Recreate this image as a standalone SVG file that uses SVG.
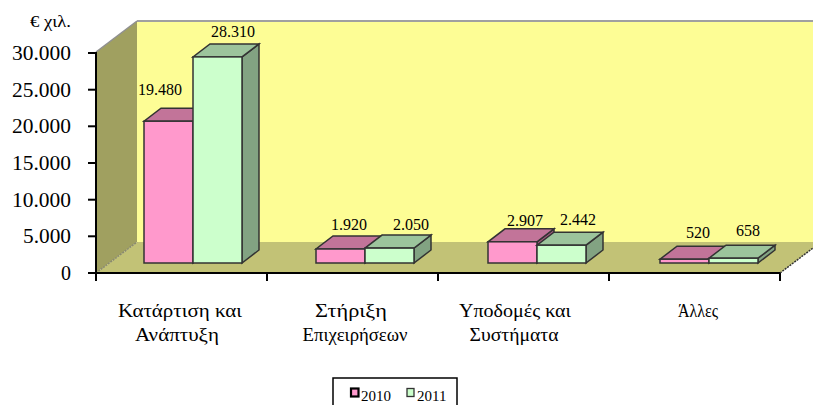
<svg xmlns="http://www.w3.org/2000/svg" width="813" height="405" viewBox="0 0 813 405">
<style>
text{font-family:"Liberation Serif","DejaVu Serif",serif;fill:#000}
.ytl{font-size:20px;text-anchor:end}
.val{font-size:16px;text-anchor:middle}
.cat{font-size:19px;text-anchor:middle}
.leg{font-size:15px}
.pf{fill:#ff99cc;stroke:#333;stroke-width:1.5}
.pt{fill:#c27499;stroke:#333;stroke-width:1.5}
.ps{fill:#a0587c;stroke:#333;stroke-width:1.5}
.gf{fill:#ccffcc;stroke:#333;stroke-width:1.5}
.gt{fill:#9cc49c;stroke:#333;stroke-width:1.5}
.gs{fill:#82a382;stroke:#333;stroke-width:1.5}
.ax{stroke:#000;stroke-width:2;fill:none}
</style>
<rect width="813" height="405" fill="#fff"/>
<g id="plot-area">
<rect x="137" y="21" width="676" height="221" fill="#fdfd95"/>
<line x1="137" y1="21" x2="813" y2="21" stroke="#a0a0a0" stroke-width="2"/>
<polygon points="96,52 137,21 137,242 96,273" fill="#a0a060"/>
<line x1="96" y1="52" x2="137" y2="21" stroke="#909090" stroke-width="1.5"/>
<polygon points="96,273 137,242 813,242 813,248 780,273" fill="#c2c276"/>
<line x1="96" y1="273" x2="137" y2="242" stroke="#8a8a70" stroke-width="1.5" stroke-dasharray="2,1"/>
<line x1="780" y1="273" x2="813" y2="248" stroke="#333" stroke-width="1.5" stroke-dasharray="2,1"/>
</g>
<g id="axes">
<line class="ax" x1="96" y1="52" x2="96" y2="274"/>
<line class="ax" x1="95" y1="273" x2="780" y2="273"/>
<g stroke="#000" stroke-width="2">
<line x1="88" y1="53" x2="96" y2="53"/>
<line x1="88" y1="89.7" x2="96" y2="89.7"/>
<line x1="88" y1="126.3" x2="96" y2="126.3"/>
<line x1="88" y1="163" x2="96" y2="163"/>
<line x1="88" y1="199.7" x2="96" y2="199.7"/>
<line x1="88" y1="236.3" x2="96" y2="236.3"/>
<line x1="88" y1="273" x2="96" y2="273"/>
<line x1="96" y1="273" x2="96" y2="281"/>
<line x1="267" y1="273" x2="267" y2="281"/>
<line x1="438" y1="273" x2="438" y2="281"/>
<line x1="609" y1="273" x2="609" y2="281"/>
<line x1="780" y1="273" x2="780" y2="281"/>
</g>
<text x="30" y="27" style="font-size:16px" textLength="41" lengthAdjust="spacingAndGlyphs">€ χιλ.</text>
<text class="ytl" x="71" y="60" textLength="59" lengthAdjust="spacingAndGlyphs">30.000</text>
<text class="ytl" x="71" y="96.7" textLength="59" lengthAdjust="spacingAndGlyphs">25.000</text>
<text class="ytl" x="71" y="133.3" textLength="59" lengthAdjust="spacingAndGlyphs">20.000</text>
<text class="ytl" x="71" y="170" textLength="59" lengthAdjust="spacingAndGlyphs">15.000</text>
<text class="ytl" x="71" y="206.7" textLength="59" lengthAdjust="spacingAndGlyphs">10.000</text>
<text class="ytl" x="71" y="243.3" textLength="48" lengthAdjust="spacingAndGlyphs">5.000</text>
<text class="ytl" x="71" y="280">0</text>
<text class="cat" x="180" y="317" textLength="124" lengthAdjust="spacingAndGlyphs">Κατάρτιση και</text>
<text class="cat" x="177" y="341" textLength="84" lengthAdjust="spacingAndGlyphs">Ανάπτυξη</text>
<text class="cat" x="351" y="317" textLength="72" lengthAdjust="spacingAndGlyphs">Στήριξη</text>
<text class="cat" x="355" y="341" textLength="105" lengthAdjust="spacingAndGlyphs">Επιχειρήσεων</text>
<text class="cat" x="515" y="317" textLength="112" lengthAdjust="spacingAndGlyphs">Υποδομές και</text>
<text class="cat" x="514" y="341" textLength="89" lengthAdjust="spacingAndGlyphs">Συστήματα</text>
<text class="cat" x="698" y="317" textLength="40" lengthAdjust="spacingAndGlyphs">Άλλες</text>
</g>
<g id="bars-cat1">
<polygon class="ps" points="193,121.2 210,108.2 210,250 193,263"/>
<polygon class="pt" points="144,121.2 193,121.2 210,108.2 161,108.2"/>
<rect class="pf" x="144" y="121.2" width="49" height="141.8"/>
<polygon class="gs" points="242,56.9 259,43.9 259,250 242,263"/>
<polygon class="gt" points="193,56.9 242,56.9 259,43.9 210,43.9"/>
<rect class="gf" x="193" y="56.9" width="49" height="206.1"/>
<text class="val" x="160" y="95">19.480</text>
<text class="val" x="233" y="37">28.310</text>
</g>
<g id="bars-cat2">
<polygon class="ps" points="365,249 382,236 382,250 365,263"/>
<polygon class="pt" points="316,249 365,249 382,236 333,236"/>
<rect class="pf" x="316" y="249" width="49" height="14"/>
<polygon class="gs" points="414,248.1 431,235.1 431,250 414,263"/>
<polygon class="gt" points="365,248.1 414,248.1 431,235.1 382,235.1"/>
<rect class="gf" x="365" y="248.1" width="49" height="14.9"/>
<text class="val" x="349" y="230">1.920</text>
<text class="val" x="411" y="230">2.050</text>
</g>
<g id="bars-cat3">
<polygon class="ps" points="537,241.8 554,228.8 554,250 537,263"/>
<polygon class="pt" points="488,241.8 537,241.8 554,228.8 505,228.8"/>
<rect class="pf" x="488" y="241.8" width="49" height="21.2"/>
<polygon class="gs" points="586,245.2 603,232.2 603,250 586,263"/>
<polygon class="gt" points="537,245.2 586,245.2 603,232.2 554,232.2"/>
<rect class="gf" x="537" y="245.2" width="49" height="17.8"/>
<text class="val" x="525" y="226">2.907</text>
<text class="val" x="578" y="225">2.442</text>
</g>
<g id="bars-cat4">
<polygon class="ps" points="709,259.2 726,246.2 726,250 709,263"/>
<polygon class="pt" points="660,259.2 709,259.2 726,246.2 677,246.2"/>
<rect class="pf" x="660" y="259.2" width="49" height="3.8"/>
<polygon class="gs" points="758,258.2 775,245.2 775,250 758,263"/>
<polygon class="gt" points="709,258.2 758,258.2 775,245.2 726,245.2"/>
<rect class="gf" x="709" y="258.2" width="49" height="4.8"/>
<text class="val" x="698" y="238">520</text>
<text class="val" x="748" y="236">658</text>
</g>
<g id="legend">
<rect x="333" y="378" width="124" height="40" fill="#fff" stroke="#000" stroke-width="1.5"/>
<rect x="351" y="388.5" width="7.5" height="8" fill="#ff99cc" stroke="#000" stroke-width="2.2"/>
<text class="leg" x="361" y="401">2010</text>
<rect x="407" y="388.5" width="7" height="8" fill="#ccffcc" stroke="#333" stroke-width="1.3"/>
<text class="leg" x="417" y="401">2011</text>
</g>
</svg>
